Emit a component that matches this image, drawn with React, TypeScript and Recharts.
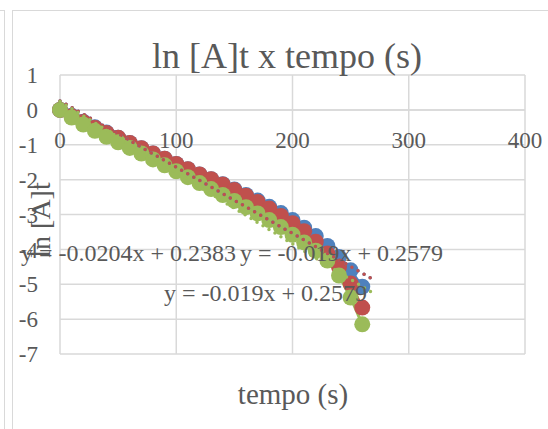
import React from 'react';
import { ComposedChart, Line, XAxis, YAxis, CartesianGrid, ReferenceLine } from 'recharts';

const timeValues = [0, 10, 20, 30, 40, 50, 60, 70, 80, 90, 100, 110, 120, 130, 140, 150, 160, 170, 180, 190, 200, 210, 220, 230, 240, 250, 260];
const blueValues = [0, -0.17, -0.34, -0.5, -0.65, -0.8, -0.95, -1.1, -1.25, -1.4, -1.55, -1.7, -1.85, -1.99, -2.13, -2.28, -2.44, -2.6, -2.78, -2.96, -3.16, -3.38, -3.62, -3.9, -4.22, -4.6, -5.07];
const redValues = [0, -0.18, -0.35, -0.51, -0.66, -0.8, -0.95, -1.1, -1.25, -1.4, -1.55, -1.7, -1.85, -1.99, -2.14, -2.3, -2.46, -2.64, -2.83, -3.04, -3.25, -3.48, -3.78, -4.12, -4.5, -4.98, -5.67];
const greenValues = [0, -0.22, -0.42, -0.6, -0.77, -0.93, -1.09, -1.25, -1.42, -1.59, -1.76, -1.93, -2.1, -2.27, -2.44, -2.61, -2.79, -2.97, -3.16, -3.36, -3.58, -3.8, -4.04, -4.32, -4.75, -5.38, -6.15];

const xTicks = [0, 100, 200, 300, 400];
const yTicks = [-7, -6, -5, -4, -3, -2, -1, 0, 1];

// trendline coefficients (from the equation labels)
const trendBlue = { slope: -0.019, intercept: 0.2579 };
const trendRed = { slope: -0.019, intercept: 0.2579 };
const trendGreen = { slope: -0.0204, intercept: 0.2383 };
const trendRange = [0, 272];

const labelEq1 = 'y = -0.0204x + 0.2383';
const labelEq2 = 'y = -0.019x + 0.2579';
const labelEq3 = 'y = -0.019x + 0.2579';

const tableData = timeValues.map((x, i) => ({ x, blue: blueValues[i], red: redValues[i], green: greenValues[i] }));
const trendData = (t: { slope: number; intercept: number }) =>
  trendRange.map((x) => ({ x, y: t.slope * x + t.intercept }));

const W = 548;
const H = 429;
const PLOT_LEFT = 60;
const PLOT_RIGHT = 525;
const PLOT_TOP = 75;
const PLOT_BOTTOM = 354;
const Y_MIN = -7;
const Y_MAX = 1;
const ZERO_Y = PLOT_TOP + ((Y_MAX - 0) / (Y_MAX - Y_MIN)) * (PLOT_BOTTOM - PLOT_TOP);

const FONT = '"Liberation Serif", "Times New Roman", serif';
const TEXT = '#595959';
const GRID = '#d9d9d9';
const BLUE = '#4F81BD';
const RED = '#C0504D';
const GREEN = '#9BBB59';

const XTick = (props: any) => {
  const { x, payload } = props;
  return (
    <text x={x} y={ZERO_Y + 38} textAnchor="middle" fill={TEXT} fontSize={23} fontFamily={FONT}>
      {payload.value}
    </text>
  );
};

const trendProps = (color: string) => ({
  dataKey: 'y',
  stroke: color,
  strokeWidth: 3.5,
  strokeDasharray: '0 7',
  strokeLinecap: 'round' as const,
  dot: false,
  activeDot: false,
  isAnimationActive: false,
  zIndex: 1000,
});

export default function App() {
  return (
    <div style={{ position: 'absolute', left: 0, top: 0, width: W, height: H, background: '#fff', overflow: 'hidden' }}>
      <div style={{ position: 'absolute', left: 0, top: 10, width: 4, height: 500, borderTop: `1.5px solid ${GRID}`, borderRight: `1.5px solid ${GRID}` }} />
      <div style={{ position: 'absolute', left: 12, top: 10, width: 600, height: 500, borderTop: `1.5px solid ${GRID}`, borderLeft: `1.5px solid ${GRID}` }} />
      <div style={{ position: 'absolute', left: 0, top: 0 }}>
        <ComposedChart
          width={W}
          height={H}
          data={tableData}
          margin={{ top: PLOT_TOP, right: W - PLOT_RIGHT, left: 0, bottom: H - PLOT_BOTTOM - 30 }}
        >
          <CartesianGrid stroke={GRID} strokeWidth={1.5} horizontal vertical />
          <XAxis
            type="number"
            dataKey="x"
            domain={[0, 400]}
            ticks={xTicks}
            axisLine={false}
            tickLine={false}
            tickSize={0}
            height={30}
            tick={<XTick />}
            interval={0}
          />
          <YAxis
            type="number"
            domain={[Y_MIN, Y_MAX]}
            ticks={yTicks}
            width={PLOT_LEFT}
            axisLine={false}
            tickLine={false}
            tickSize={0}
            tickMargin={22}
            interval={0}
            tick={{ fill: TEXT, fontSize: 23, fontFamily: FONT }}
          />
          <ReferenceLine y={0} stroke={GRID} strokeWidth={1.5} />
          <Line dataKey="blue" stroke={BLUE} strokeWidth={3} dot={{ r: 8, fill: BLUE, stroke: BLUE, strokeWidth: 0 }} activeDot={false} isAnimationActive={false} />
          <Line dataKey="red" stroke={RED} strokeWidth={3} dot={{ r: 8, fill: RED, stroke: RED, strokeWidth: 0 }} activeDot={false} isAnimationActive={false} />
          <Line dataKey="green" stroke={GREEN} strokeWidth={3} dot={{ r: 8, fill: GREEN, stroke: GREEN, strokeWidth: 0 }} activeDot={false} isAnimationActive={false} />
          <Line data={trendData(trendBlue)} {...trendProps(BLUE)} />
          <Line data={trendData(trendRed)} {...trendProps(RED)} />
          <Line data={trendData(trendGreen)} {...trendProps(GREEN)} />
        </ComposedChart>
      </div>
      <svg width={W} height={H} style={{ position: 'absolute', left: 0, top: 0, pointerEvents: 'none' }}>
        <text x={287} y={68} textAnchor="middle" fill={TEXT} fontSize={36} fontFamily={FONT}>ln [A]t x tempo (s)</text>
        <text x={293} y={404} textAnchor="middle" fill={TEXT} fontSize={29} fontFamily={FONT}>tempo (s)</text>
        <text x={40} y={220} textAnchor="middle" dominantBaseline="central" transform="rotate(-90, 40, 220)" fill={TEXT} fontSize={28} fontFamily={FONT}>ln [A]t</text>
        <text x={21} y={261} fill={TEXT} fontSize={24} fontFamily={FONT}>{labelEq1}</text>
        <text x={240} y={261} fill={TEXT} fontSize={24} fontFamily={FONT}>{labelEq2}</text>
        <text x={164} y={301} fill={TEXT} fontSize={24} fontFamily={FONT}>{labelEq3}</text>
      </svg>
    </div>
  );
}
